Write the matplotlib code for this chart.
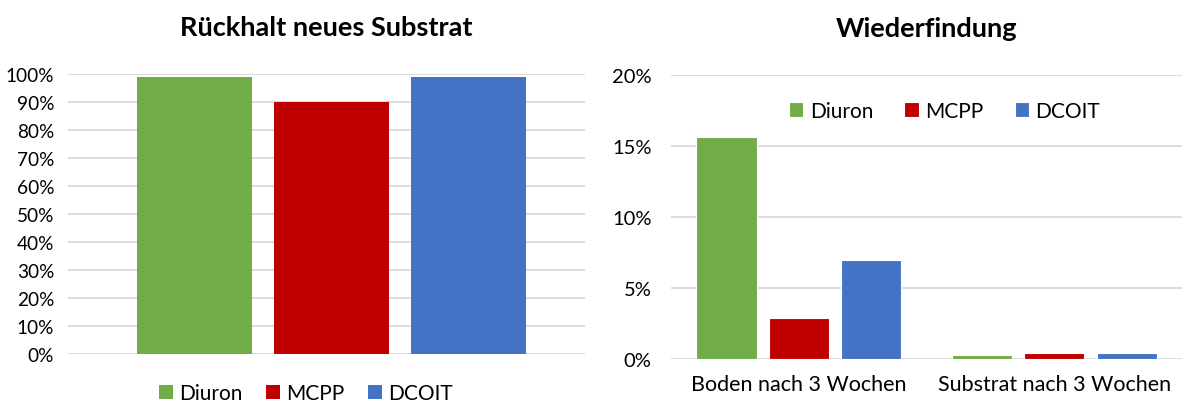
import numpy as np
import matplotlib.pyplot as plt
from matplotlib.ticker import PercentFormatter

plt.rcParams['font.family'] = ['Lato', 'DejaVu Sans']

series = ['Diuron', 'MCPP', 'DCOIT']
colors = ['#70AD47', '#C00000', '#4472C4']

# left chart: retention in new substrate
rueckhalt = [0.99, 0.90, 0.99]

# right chart: recovery
kategorien = ['Boden nach 3 Wochen', 'Substrat nach 3 Wochen']
diuron = [0.156, 0.003]
mcpp = [0.029, 0.004]
dcoit = [0.070, 0.004]

fig = plt.figure(figsize=(11.9, 4.14), dpi=100)
grid_col = '#d9d9d9'

# ---------- left ----------
ax1 = fig.add_axes([0.0571, 0.1425, 0.4345, 0.676])
w1 = 0.222
step1 = 0.265
for i, (v, c, name) in enumerate(zip(rueckhalt, colors, series)):
    ax1.bar(0.009 + (i - 1) * step1, v, w1, color=c, label=name, zorder=3)
ax1.set_xlim(-0.5, 0.5)
ax1.set_ylim(0, 1)
ax1.set_yticks(np.arange(0, 1.01, 0.1))
ax1.yaxis.set_major_formatter(PercentFormatter(1.0, decimals=0))
ax1.set_xticks([])
ax1.grid(axis='y', color=grid_col, linewidth=1.3, zorder=0)
for s in ax1.spines.values():
    s.set_visible(False)
ax1.tick_params(axis='y', length=0, labelsize=13.7, pad=10)
ax1.set_title('Rückhalt neues Substrat', fontsize=19.5, fontweight='bold', pad=28)
ax1.legend(loc='upper center', bbox_to_anchor=(0.46, -0.06), ncol=3, frameon=False,
           fontsize=15, handlelength=0.7, handleheight=0.7, handletextpad=0.3,
           columnspacing=1.1, borderaxespad=0.2)

# ---------- right ----------
ax2 = fig.add_axes([0.5639, 0.1304, 0.4294, 0.686])
x = np.arange(len(kategorien))
w2 = 0.235
step2 = 0.283
for i, (vals, c, name) in enumerate(zip([diuron, mcpp, dcoit], colors, series)):
    ax2.bar(x + (i - 1) * step2, vals, w2, color=c, label=name, zorder=3,
            edgecolor='white', linewidth=0.8)
ax2.set_xlim(-0.5, 1.5)
ax2.set_ylim(0, 0.2)
ax2.set_yticks(np.arange(0, 0.201, 0.05))
ax2.yaxis.set_major_formatter(PercentFormatter(1.0, decimals=0))
ax2.set_xticks(x)
ax2.set_xticklabels(kategorien)
ax2.grid(axis='y', color=grid_col, linewidth=1.3, zorder=0)
for s in ax2.spines.values():
    s.set_visible(False)
ax2.tick_params(axis='y', length=0, labelsize=14.5, pad=14)
ax2.tick_params(axis='x', length=0, labelsize=15.5, pad=11)
ax2.set_title('Wiederfindung', fontsize=19.5, fontweight='bold', pad=28)
ax2.legend(loc='upper center', bbox_to_anchor=(0.535, 0.975), ncol=3, frameon=False,
           fontsize=15, handlelength=0.7, handleheight=0.7, handletextpad=0.3,
           columnspacing=1.5)

plt.savefig('out.png', dpi=100)
